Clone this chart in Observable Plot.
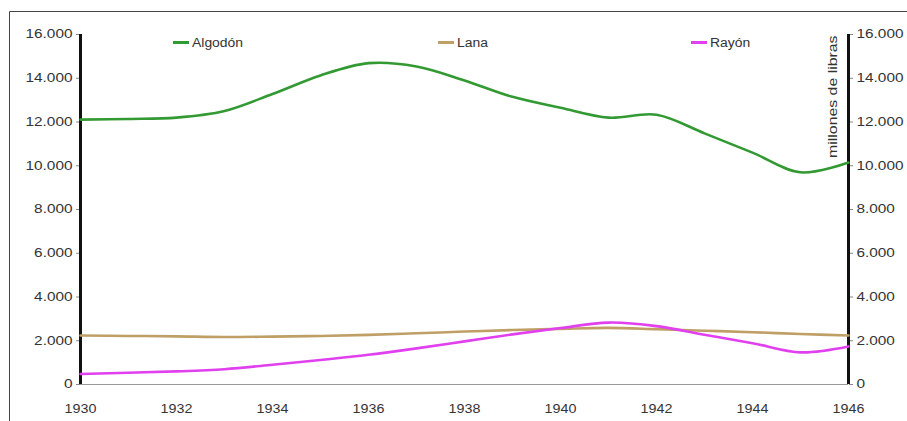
<!DOCTYPE html>
<html>
<head>
<meta charset="utf-8">
<script src="https://cdn.jsdelivr.net/npm/d3@7"></script>
<script src="https://cdn.jsdelivr.net/npm/@observablehq/plot@0.6"></script>
<style>
  html, body { margin: 0; padding: 0; background: #fff; }
  #chart { width: 907px; height: 421px; }
</style>
</head>
<body>
<div id="chart"></div>
<script>
const years = [1930,1931,1932,1933,1934,1935,1936,1937,1938,1939,1940,1941,1942,1943,1944,1945,1946];
const algodon = [12110,12140,12200,12500,13280,14130,14690,14540,13900,13150,12650,12200,12330,11480,10600,9700,10150];
const lana    = [2240,2220,2200,2170,2190,2220,2270,2340,2420,2490,2545,2590,2530,2460,2390,2310,2240];
const rayon   = [480,540,600,700,900,1120,1360,1650,1970,2290,2580,2830,2670,2270,1890,1470,1740];
const seriesNames = ["Algodón","Lana","Rayón"];
const seriesColors = ["#339933","#bf9f66","#e040ee"];
const xTicks = [1930,1932,1934,1936,1938,1940,1942,1944,1946];
const yTicks = [0,2000,4000,6000,8000,10000,12000,14000,16000];
const axisTitle = "millones de libras";

const rows = [];
[algodon, lana, rayon].forEach((vals, si) => {
  vals.forEach((v, i) => rows.push({series: seriesNames[si], year: years[i], value: v}));
});

const fmt = d3.formatLocale({decimal: ",", thousands: ".", grouping: [3], currency: ["", ""]}).format(",");

const chart = Plot.plot({
  width: 907,
  height: 421,
  marginLeft: 80,
  marginRight: 59,
  marginTop: 34,
  marginBottom: 37,
  style: {fontFamily: "'Liberation Sans', Arial, sans-serif", fontSize: "12px", color: "#333", background: "transparent"},
  x: {domain: [1930, 1946]},
  y: {domain: [0, 16000]},
  color: {domain: seriesNames, range: seriesColors},
  marks: [
    Plot.ruleY([0], {stroke: "#999", strokeWidth: 1}),
    Plot.axisX({ticks: xTicks, tickFormat: d => String(d), tickSize: 0, tickPadding: 19, fontSize: 13, label: null}),
    Plot.axisY({anchor: "left", ticks: yTicks, tickFormat: fmt, tickSize: 4, tickPadding: 4, stroke: "#888", label: null}),
    Plot.axisY({anchor: "right", ticks: yTicks, tickFormat: fmt, tickSize: 4, tickPadding: 4, stroke: "#888", label: null}),
    Plot.ruleX([1930, 1946], {stroke: "#111", strokeWidth: 3}),
    Plot.line(rows, {x: "year", y: "value", z: "series", stroke: "series", curve: "catmull-rom", strokeWidth: 2.6}),
    Plot.text([axisTitle], {x: 1946, y: 16000, rotate: -90, textAnchor: "end", lineAnchor: "middle", dx: -15, dy: 1, fill: "#333", fontSize: 12})
  ]
});

document.getElementById("chart").append(chart);

const svg = d3.select(chart);

// Legend inside the plot area
const legendX = [173, 438, 691];
const lg = svg.append("g").attr("class", "legend").attr("text-anchor", "start");
seriesNames.forEach((name, i) => {
  const g = lg.append("g").attr("transform", `translate(${legendX[i]},42.5)`);
  g.append("line").attr("x1", 0).attr("x2", 16).attr("y1", 0).attr("y2", 0)
    .attr("stroke", seriesColors[i]).attr("stroke-width", 3);
  g.append("text").attr("x", 19).attr("y", 0).attr("dy", "0.35em")
    .attr("text-anchor", "start")
    .attr("fill", "#333").attr("font-size", 12).attr("class", "lgtext").text(name);
});

// Outer frame (top and left border)
svg.append("path").attr("d", "M9.5,421V11.5H907").attr("fill", "none").attr("stroke", "#444").attr("stroke-width", 1);

// Widen glyphs to match the reference's wide sans text
function stretch(sel, k) {
  sel.each(function() {
    const w = this.getComputedTextLength();
    if (w > 0) {
      this.setAttribute("textLength", (w * k).toFixed(1));
      this.setAttribute("lengthAdjust", "spacingAndGlyphs");
    }
  });
}
svg.selectAll("g[aria-label='y-axis tick label'] text").call(stretch, 1.28);
svg.selectAll("g[aria-label='x-axis tick label'] text").call(stretch, 1.1);
svg.selectAll("g[aria-label='text'] text").call(stretch, 1.32);
svg.selectAll("text.lgtext").call(stretch, 1.16);
</script>
</body>
</html>
